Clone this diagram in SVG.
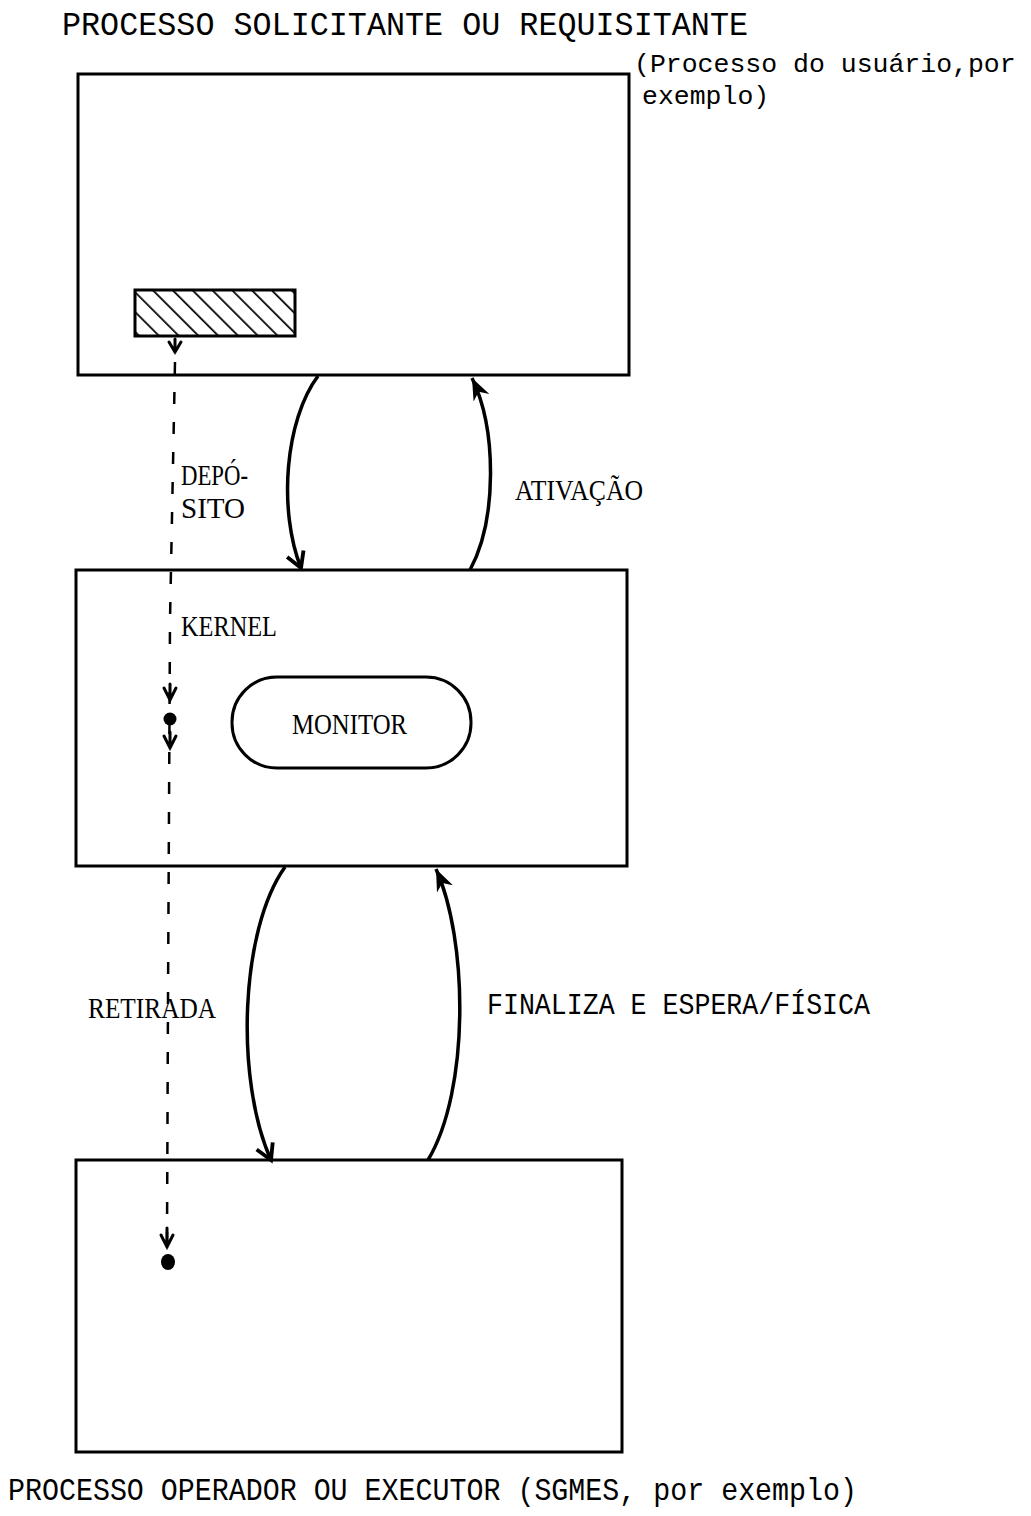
<svg xmlns="http://www.w3.org/2000/svg" width="1031" height="1516" viewBox="0 0 1031 1516">
<style>
.box{fill:none;stroke:#000;stroke-width:3}
.conn{fill:none;stroke:#000;stroke-width:3.5}
.dash{fill:none;stroke:#000;stroke-width:2.5;stroke-dasharray:12,18}
.mono{font-family:"Liberation Mono","DejaVu Sans Mono",monospace;fill:#000}
.ser{font-family:"Liberation Serif","DejaVu Serif",serif;fill:#000}
.vee{fill:none;stroke:#000;stroke-width:3;stroke-linecap:round}
</style>
<defs>
<pattern id="hatch" patternUnits="userSpaceOnUse" width="14" height="14" patternTransform="rotate(-45)">
<line x1="0" y1="0" x2="0" y2="14" stroke="#000" stroke-width="3.5"/>
</pattern>
<marker id="openv" viewBox="0 0 20 20" refX="16" refY="10" markerWidth="22" markerHeight="22" markerUnits="userSpaceOnUse" orient="auto">
<path d="M2,2 L16,10 L2,18" fill="none" stroke="#000" stroke-width="3.5"/>
</marker>
<marker id="filled" viewBox="0 0 22 20" refX="20" refY="10" markerWidth="24" markerHeight="22" markerUnits="userSpaceOnUse" orient="auto">
<path d="M0,2 L20,10 L0,18 L6,10 Z" fill="#000"/>
</marker>
</defs>
<rect width="1031" height="1516" fill="#fff"/>

<g id="title-top"><text class="mono" x="62" y="35" font-size="34" textLength="686" lengthAdjust="spacingAndGlyphs">PROCESSO SOLICITANTE OU REQUISITANTE</text></g>
<g id="note-top">
<text class="mono" x="634" y="72" font-size="26.5">(Processo do usuário,por</text>
<text class="mono" x="642" y="104" font-size="26.5">exemplo)</text>
</g>

<g id="box-solicitante">
<rect class="box" x="78" y="74" width="551" height="301"/>
<rect x="135" y="290" width="160" height="46" fill="url(#hatch)" stroke="#000" stroke-width="3"/>
</g>

<g id="box-kernel">
<rect class="box" x="76" y="570" width="551" height="296"/>
<text class="ser" x="181" y="636" font-size="30" textLength="96" lengthAdjust="spacingAndGlyphs">KERNEL</text>
</g>

<g id="monitor">
<rect class="box" x="232" y="677" width="239" height="91" rx="45" ry="45"/>
<text class="ser" x="292" y="734" font-size="30" textLength="115" lengthAdjust="spacingAndGlyphs">MONITOR</text>
</g>

<g id="box-executor">
<rect class="box" x="76" y="1160" width="546" height="292"/>
</g>
<g id="title-bottom"><text class="mono" x="8" y="1500" font-size="32" textLength="849" lengthAdjust="spacingAndGlyphs">PROCESSO OPERADOR OU EXECUTOR (SGMES, por exemplo)</text></g>

<g id="connectors">
<path class="dash" d="M175,362 L170,620 L168,1000 L167,1240"/>
<path class="vee" d="M169,342 L175,352 L181,342 M175,339 L175,352"/>
<path class="vee" d="M164,688 L170,700 L176,688 M170,684 L170,700"/>
<circle cx="170" cy="719" r="6.5" fill="#000"/>
<path class="vee" d="M164,736 L170,748 L176,736 M170,732 L170,748"/>
<path class="vee" d="M161,1235 L167,1247 L173,1235 M167,1228 L167,1247"/>
<ellipse cx="168" cy="1262" rx="7" ry="8" fill="#000"/>

<path class="conn" d="M318,376 C285,420 278,510 301,568" marker-end="url(#openv)"/>
<path class="conn" d="M470,570 C497,520 497,430 472,378" marker-end="url(#filled)"/>
<path class="conn" d="M285,867 C240,930 235,1080 271,1160" marker-end="url(#openv)"/>
<path class="conn" d="M428,1160 C470,1090 468,940 436,869" marker-end="url(#filled)"/>

<text class="ser" x="181" y="485" font-size="30" textLength="67" lengthAdjust="spacingAndGlyphs">DEPÓ-</text>
<text class="ser" x="181" y="518" font-size="30" textLength="64" lengthAdjust="spacingAndGlyphs">SITO</text>
<text class="ser" x="515" y="500" font-size="30" textLength="128" lengthAdjust="spacingAndGlyphs">ATIVAÇÃO</text>
<text class="ser" x="88" y="1018" font-size="30" textLength="128" lengthAdjust="spacingAndGlyphs">RETIRADA</text>
<text class="mono" x="487" y="1014" font-size="30" textLength="383" lengthAdjust="spacingAndGlyphs">FINALIZA E ESPERA/FÍSICA</text>
</g>
</svg>
